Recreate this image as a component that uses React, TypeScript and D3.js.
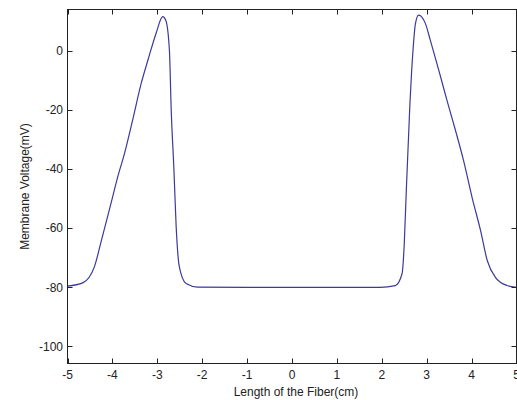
import React from "react";
import * as d3 from "d3";

const xValues = [
  -5.0, -4.66, -4.4, -4.26, -4.03, -3.88, -3.73, -3.55, -3.36, -3.21, -3.03, -2.88,
  -2.81, -2.73, -2.69, -2.63, -2.58, -2.51, -2.36, -2.1,
  -1.0, 0.0, 1.0, 1.96,
  2.3, 2.45, 2.5, 2.54, 2.62, 2.69, 2.75, 2.82, 2.97, 3.08, 3.27, 3.45, 3.64, 3.82, 4.01, 4.2, 4.35, 4.53,
  4.79, 5.0,
];
const voltage = [
  -79.6, -78.5, -73, -65, -51.5, -42.5, -34.6, -23.4, -11, -3.1, 5.9, 11.7,
  10.4, 0.2, -20, -40, -59.4, -73, -78.7, -79.9,
  -80, -80, -80, -80,
  -79.4, -75.5, -65.3, -49.5, -20, -0.8, 9.4, 12.2, 9.4, 3.7, -6.5, -16.6, -26.8, -37, -49.5, -60.8, -71, -76.6,
  -79.4, -80,
];
const xTicks = [-5, -4, -3, -2, -1, 0, 1, 2, 3, 4, 5];
const yTicks = [-100, -80, -60, -40, -20, 0];
const xLabel = "Length of the Fiber(cm)";
const yLabel = "Membrane Voltage(mV)";

export default function App() {
  const W = 517, H = 400;
  const left = 67.5, right = 516.5, top = 9.5, bottom = 363.5;
  const x = d3.scaleLinear().domain([-5, 5]).range([left, right]);
  const y = d3.scaleLinear().domain([-105.8, 14.1]).range([bottom, top]);
  const pts: [number, number][] = xValues.map((v, i) => [v, voltage[i]]);
  const line = d3
    .line<[number, number]>()
    .x((d) => x(d[0]))
    .y((d) => y(d[1]))
    .curve(d3.curveMonotoneX);
  const font = "'Liberation Sans', Arial, sans-serif";
  const tl = 5;
  return (
    <svg width={W} height={H} style={{ position: "absolute", left: 0, top: 0, background: "#fff" }}>
      <rect x={0} y={0} width={W} height={H} fill="#fff" />
      <path d={line(pts) || ""} fill="none" stroke="#3a3a9c" strokeWidth={1.2} />
      <g stroke="#222" strokeWidth={1} fill="none">
        <rect x={left} y={top} width={right - left} height={bottom - top} />
        {xTicks.map((t) => (
          <g key={"xt" + t}>
            <line x1={Math.round(x(t)) + 0.5} x2={Math.round(x(t)) + 0.5} y1={bottom} y2={bottom - tl} />
            <line x1={Math.round(x(t)) + 0.5} x2={Math.round(x(t)) + 0.5} y1={top} y2={top + tl} />
          </g>
        ))}
        {yTicks.map((t) => (
          <g key={"yt" + t}>
            <line x1={left} x2={left + tl} y1={Math.round(y(t)) + 0.5} y2={Math.round(y(t)) + 0.5} />
            <line x1={right} x2={right - tl} y1={Math.round(y(t)) + 0.5} y2={Math.round(y(t)) + 0.5} />
          </g>
        ))}
      </g>
      <g fontFamily={font} fontSize={12} fill="#222">
        {xTicks.map((t) => (
          <text key={"xl" + t} x={x(t)} y={379} textAnchor="middle">
            {t}
          </text>
        ))}
        {yTicks.map((t) => (
          <text key={"yl" + t} x={63} y={y(t)} dy="0.35em" textAnchor="end">
            {t}
          </text>
        ))}
        <text x={(left + right) / 2 + 4} y={396} textAnchor="middle">
          {xLabel}
        </text>
        <text transform={`translate(29,${(top + bottom) / 2}) rotate(-90)`} textAnchor="middle">
          {yLabel}
        </text>
      </g>
    </svg>
  );
}
